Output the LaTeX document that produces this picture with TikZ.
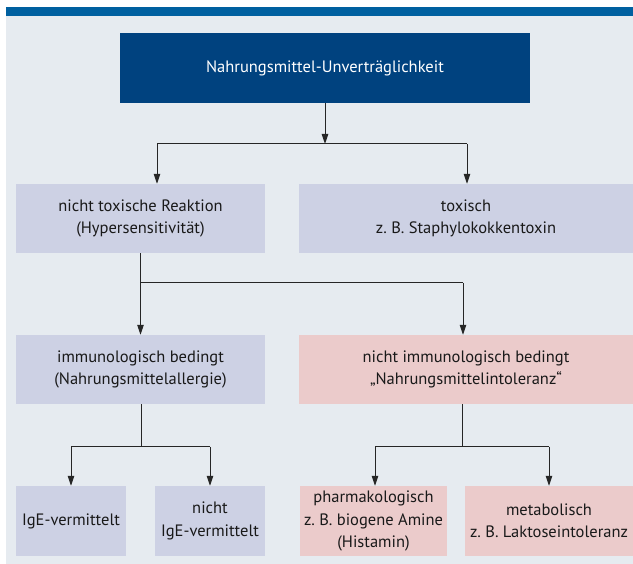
\documentclass[tikz,border=0pt]{standalone}
\usepackage{fontspec}
\setmainfont{PT Sans}
\usetikzlibrary{arrows.meta}
\frenchspacing
\definecolor{barblue}{HTML}{0060A0}
\definecolor{topblue}{HTML}{00427F}
\definecolor{panel}{HTML}{E6EBF0}
\definecolor{lav}{HTML}{CDD1E4}
\definecolor{rose}{HTML}{EBCBCB}
\tikzset{
  box/.style={rectangle, inner sep=0pt, align=center, minimum height=70pt,
    font=\fontsize{16.5}{22.5}\selectfont, text=black!90},
  lavbox/.style={box, fill=lav},
  rosebox/.style={box, fill=rose},
  conn/.style={line width=1pt, draw=black!85},
  arr/.style={conn, -{Triangle[length=10pt,width=6.5pt]}},
}
\begin{document}
\begin{tikzpicture}[x=1pt,y=-1pt]
\useasboundingbox (0,0) rectangle (633,564);
\fill[panel] (6,16) rectangle (633,564);
\fill[barblue] (6,7) rectangle (633,16);

\node[box, fill=topblue, text=white, minimum width=410pt] (top) at (325,68) {Nahrungsmittel-Unverträglichkeit};

\node[lavbox, minimum width=249pt, minimum height=69pt] (ntr) at (140.5,218.5) {nicht toxische Reaktion\\(Hypersensitivität)};
\node[lavbox, minimum width=334pt, minimum height=69pt] (tox) at (466,218.5) {toxisch\\z.\ B. Staphylokokkentoxin};

\node[lavbox, minimum width=249pt, minimum height=69pt] (imm) at (140.5,369.5) {immunologisch bedingt\\(Nahrungsmittelallergie)};
\node[rosebox, minimum width=334pt, minimum height=69pt] (nimm) at (466,369.5) {nicht immunologisch bedingt\\„Nahrungsmittelintoleranz“};

\node[lavbox, minimum width=110pt] (ige) at (71,521) {IgE-vermittelt};
\node[lavbox, minimum width=110pt] (nige) at (210,521) {nicht\\IgE-vermittelt};
\node[rosebox, minimum width=147pt] (pharm) at (373.5,521) {pharmakologisch\\z.\ B. biogene Amine\\(Histamin)};
\node[rosebox, minimum width=168pt] (meta) at (549,521) {metabolisch\\z.\ B. Laktoseintoleranz};

% level 1
\coordinate (j1) at (325,144);
\coordinate (j1l) at (157,144);
\coordinate (j1r) at (467,144);
\draw[arr] (top.south -| j1) -- (j1);
\draw[conn] (j1l) -- (j1r);
\draw[arr] (j1l) -- (j1l |- ntr.north);
\draw[arr] (j1r) -- (j1r |- tox.north);

% level 2
\coordinate (j2) at (140.5,283);
\coordinate (j2r) at (463,283);
\draw[conn] (ntr.south -| j2) -- (j2) -- (j2r);
\draw[arr] (j2) -- (j2 |- imm.north);
\draw[arr] (j2r) -- (j2r |- nimm.north);

% level 3 left
\coordinate (j3) at (141,447);
\coordinate (j3a) at (71,447);
\coordinate (j3b) at (210,447);
\draw[conn] (imm.south -| j3) -- (j3);
\draw[conn] (j3a) -- (j3b);
\draw[arr] (j3a) -- (j3a |- ige.north);
\draw[arr] (j3b) -- (j3b |- nige.north);

% level 3 right
\coordinate (j4) at (462,447);
\coordinate (j4a) at (375,447);
\coordinate (j4b) at (549,447);
\draw[conn] (nimm.south -| j4) -- (j4);
\draw[conn] (j4a) -- (j4b);
\draw[arr] (j4a) -- (j4a |- pharm.north);
\draw[arr] (j4b) -- (j4b |- meta.north);
\end{tikzpicture}
\end{document}
